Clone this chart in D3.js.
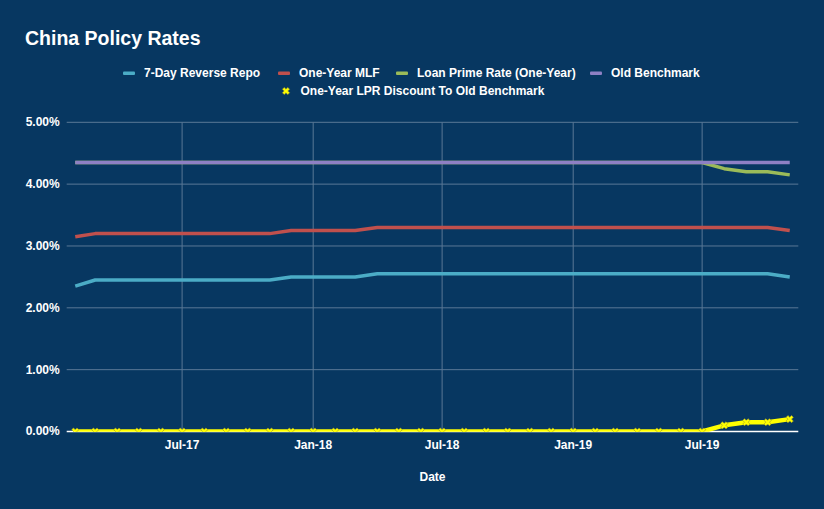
<!DOCTYPE html>
<html>
<head>
<meta charset="utf-8">
<script src="https://cdn.jsdelivr.net/npm/d3@7"></script>
<style>
  html, body { margin: 0; padding: 0; background: #073761; }
  svg { display: block; font-family: "Liberation Sans", Arial, sans-serif; }
</style>
</head>
<body>
<div id="chart"></div>
<script>
// monthly observations, Feb-17 .. Nov-19
const months = [
  '2017-02', '2017-03', '2017-04', '2017-05', '2017-06', '2017-07', '2017-08', '2017-09', '2017-10', '2017-11', '2017-12',
  '2018-01', '2018-02', '2018-03', '2018-04', '2018-05', '2018-06', '2018-07', '2018-08', '2018-09', '2018-10', '2018-11', '2018-12',
  '2019-01', '2019-02', '2019-03', '2019-04', '2019-05', '2019-06', '2019-07', '2019-08', '2019-09', '2019-10', '2019-11'
];
const reverseRepo = [
  2.35, 2.45, 2.45, 2.45, 2.45, 2.45, 2.45, 2.45, 2.45, 2.45, 2.50,
  2.50, 2.50, 2.50, 2.55, 2.55, 2.55, 2.55, 2.55, 2.55, 2.55, 2.55, 2.55,
  2.55, 2.55, 2.55, 2.55, 2.55, 2.55, 2.55, 2.55, 2.55, 2.55, 2.50
];
const mlf = [
  3.15, 3.20, 3.20, 3.20, 3.20, 3.20, 3.20, 3.20, 3.20, 3.20, 3.25,
  3.25, 3.25, 3.25, 3.30, 3.30, 3.30, 3.30, 3.30, 3.30, 3.30, 3.30, 3.30,
  3.30, 3.30, 3.30, 3.30, 3.30, 3.30, 3.30, 3.30, 3.30, 3.30, 3.25
];
const lpr = [
  4.35, 4.35, 4.35, 4.35, 4.35, 4.35, 4.35, 4.35, 4.35, 4.35, 4.35,
  4.35, 4.35, 4.35, 4.35, 4.35, 4.35, 4.35, 4.35, 4.35, 4.35, 4.35, 4.35,
  4.35, 4.35, 4.35, 4.35, 4.35, 4.35, 4.35, 4.25, 4.20, 4.20, 4.15
];
const oldBenchmark = [
  4.35, 4.35, 4.35, 4.35, 4.35, 4.35, 4.35, 4.35, 4.35, 4.35, 4.35,
  4.35, 4.35, 4.35, 4.35, 4.35, 4.35, 4.35, 4.35, 4.35, 4.35, 4.35, 4.35,
  4.35, 4.35, 4.35, 4.35, 4.35, 4.35, 4.35, 4.35, 4.35, 4.35, 4.35
];
const lprDiscount = [
  0, 0, 0, 0, 0, 0, 0, 0, 0, 0, 0,
  0, 0, 0, 0, 0, 0, 0, 0, 0, 0, 0, 0,
  0, 0, 0, 0, 0, 0, 0, 0.10, 0.15, 0.15, 0.20
];
const seriesNames = ['7-Day Reverse Repo', 'One-Year MLF', 'Loan Prime Rate (One-Year)', 'Old Benchmark', 'One-Year LPR Discount To Old Benchmark'];
const xTickLabels = ['Jul-17', 'Jan-18', 'Jul-18', 'Jan-19', 'Jul-19'];
const yTicks = [0, 1, 2, 3, 4, 5];

const W = 824, H = 509;
const margin = {left: 66.7, right: 25.7, top: 122.3, bottom: 77.5};
const width = W - margin.left - margin.right;
const height = H - margin.top - margin.bottom;

const parseMonth = d3.timeParse('%Y-%m');
const parseTick = d3.timeParse('%b-%y');
const dates = months.map(parseMonth);

const colours = ['#4bacc6', '#c0504d', '#9bbb59', '#8e80c4', '#ffff00'];
const values = [reverseRepo, mlf, lpr, oldBenchmark, lprDiscount];

const svg = d3.select('#chart').append('svg')
  .attr('width', W)
  .attr('height', H);

svg.append('rect').attr('width', W).attr('height', H).attr('fill', '#073761');

// title
svg.append('text')
  .attr('x', 25).attr('y', 45)
  .attr('fill', '#fff')
  .style('font-size', '19.5px').style('font-weight', 'bold')
  .text('China Policy Rates');

const g = svg.append('g').attr('transform', `translate(${margin.left},${margin.top})`);

// scales: time axis padded ~12 days either side of the data
const x = d3.scaleTime()
  .domain([d3.timeDay.offset(dates[0], -12), d3.timeDay.offset(dates[dates.length - 1], 12.6)])
  .range([0, width]);
const y = d3.scaleLinear().domain([0, 5]).range([height, 0]);

// horizontal gridlines
g.append('g').selectAll('line')
  .data(yTicks.filter(t => t > 0))
  .enter().append('line')
    .attr('x1', 0).attr('x2', width)
    .attr('y1', d => y(d)).attr('y2', d => y(d))
    .attr('stroke', '#5a7896').attr('stroke-width', 1);

// vertical gridlines
const xTicks = xTickLabels.map(parseTick);
g.append('g').selectAll('line')
  .data(xTicks)
  .enter().append('line')
    .attr('x1', d => x(d)).attr('x2', d => x(d))
    .attr('y1', 0).attr('y2', height)
    .attr('stroke', '#5a7896').attr('stroke-width', 1);

// y axis labels
const fmt = d3.format('.2f');
g.append('g').selectAll('text')
  .data(yTicks)
  .enter().append('text')
    .attr('x', -7).attr('y', d => y(d) + 4)
    .attr('text-anchor', 'end')
    .attr('fill', '#fff')
    .style('font-size', '12px').style('font-weight', 'bold')
    .text(d => fmt(d) + '%');

// x axis labels
g.append('g').selectAll('text')
  .data(xTicks)
  .enter().append('text')
    .attr('x', d => x(d)).attr('y', height + 18)
    .attr('text-anchor', 'middle')
    .attr('fill', '#fff')
    .style('font-size', '12px').style('font-weight', 'bold')
    .text((d, i) => xTickLabels[i]);

// axis title
g.append('text')
  .attr('x', width / 2).attr('y', height + 50)
  .attr('text-anchor', 'middle')
  .attr('fill', '#fff')
  .style('font-size', '12px').style('font-weight', 'bold')
  .text('Date');

// x axis line
g.append('line')
  .attr('x1', 0).attr('x2', width)
  .attr('y1', height).attr('y2', height)
  .attr('stroke', '#fff').attr('stroke-width', 1.5);

// clip so the zero line sits on the axis
svg.append('defs').append('clipPath').attr('id', 'plotClip')
  .append('rect').attr('x', -5).attr('y', -5).attr('width', width + 10).attr('height', height + 5.3);

const line = d3.line()
  .x((d, i) => x(dates[i]))
  .y(d => y(d));

const plot = g.append('g').attr('clip-path', 'url(#plotClip)');
values.forEach((vals, s) => {
  plot.append('path')
    .datum(vals)
    .attr('d', line)
    .attr('fill', 'none')
    .attr('stroke', colours[s])
    .attr('stroke-width', s === 4 ? 4.5 : 3.5)
    .attr('stroke-linejoin', 'round');
});

// x-shaped markers on the discount series
const xMark = d3.symbol().type(d3.symbolCross).size(32);
plot.append('g').selectAll('path')
  .data(lprDiscount)
  .enter().append('path')
    .attr('d', xMark)
    .attr('transform', (d, i) => `translate(${x(dates[i])},${y(d)}) rotate(45)`)
    .attr('fill', '#ffff00')
    .attr('stroke', '#9a9a2a').attr('stroke-width', 0.6);

// legend
const legendRows = [
  [{i: 0, x: 123}, {i: 1, x: 278}, {i: 2, x: 396}, {i: 3, x: 590}],
  [{i: 4, x: 280}]
];
const legendY = [73, 91];
legendRows.forEach((row, r) => {
  row.forEach(item => {
    const lg = svg.append('g').attr('transform', `translate(${item.x},${legendY[r]})`);
    if (item.i === 4) {
      lg.append('path')
        .attr('d', xMark)
        .attr('transform', 'translate(6,0) rotate(45)')
        .attr('fill', '#ffff00')
        .attr('stroke', '#9a9a2a').attr('stroke-width', 0.6);
    } else {
      lg.append('rect')
        .attr('x', 0).attr('y', -1.5).attr('width', 12).attr('height', 3.5)
        .attr('rx', 1)
        .attr('fill', colours[item.i]);
    }
    lg.append('text')
      .attr('x', item.i === 4 ? 20.5 : 21).attr('y', 4.3)
      .attr('fill', '#fff')
      .style('font-size', '12px').style('font-weight', 'bold')
      .text(seriesNames[item.i]);
  });
});
</script>
</body>
</html>
